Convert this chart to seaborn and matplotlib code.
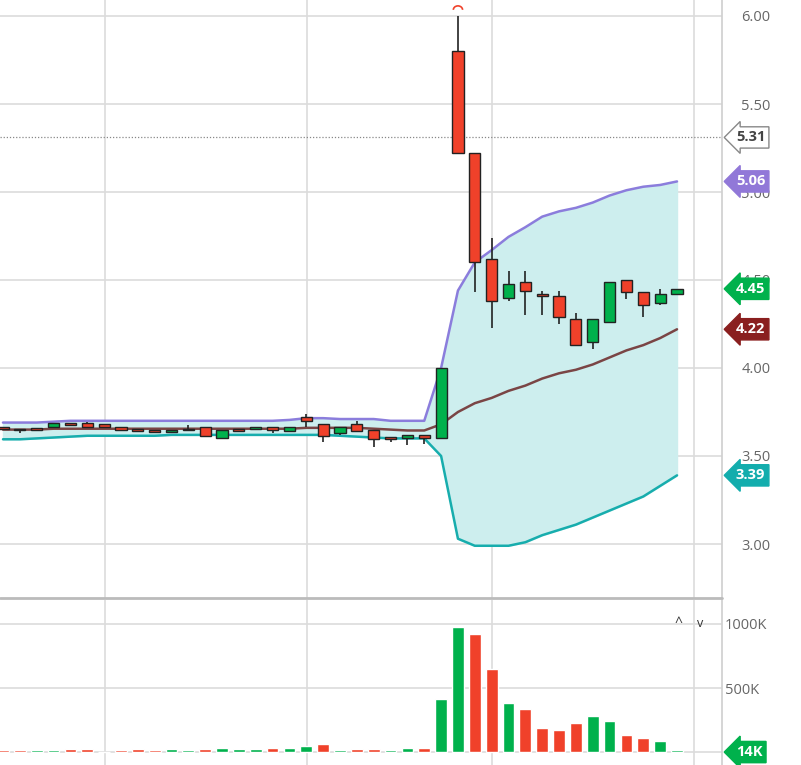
import numpy as np
import pandas as pd
import matplotlib
matplotlib.use("Agg")
import matplotlib.pyplot as plt
import matplotlib.patches as mpatches
import seaborn as sns

sns.set_theme(style="white")
plt.rcParams['font.family'] = ['Open Sans', 'DejaVu Sans']

opens = [3.66,3.65,3.655,3.665,3.68,3.685,3.68,3.665,3.645,3.65,3.635,3.645,3.665,3.605,3.645,3.655,3.665,3.64,3.72,3.68,3.63,3.68,3.645,3.60,3.60,3.62,
         3.60,5.80,5.22,4.62,4.40,4.49,4.42,4.41,4.28,4.15,4.26,4.50,4.43,4.37,4.42]
closes = [3.655,3.645,3.65,3.69,3.678,3.665,3.665,3.65,3.643,3.635,3.645,3.655,3.615,3.645,3.643,3.665,3.65,3.665,3.70,3.615,3.665,3.64,3.595,3.598,3.62,3.60,
          4.00,5.22,4.60,4.38,4.48,4.44,4.41,4.29,4.13,4.28,4.49,4.43,4.36,4.42,4.45]
highs = [3.665,3.655,3.66,3.69,3.685,3.695,3.68,3.665,3.648,3.65,3.645,3.675,3.665,3.645,3.648,3.665,3.665,3.665,3.74,3.68,3.665,3.70,3.645,3.60,3.62,3.62,
         4.00,6.00,5.22,4.74,4.55,4.55,4.44,4.44,4.31,4.28,4.49,4.50,4.43,4.45,4.45]
lows = [3.655,3.63,3.65,3.665,3.675,3.665,3.665,3.65,3.64,3.635,3.63,3.645,3.615,3.60,3.64,3.655,3.63,3.64,3.665,3.58,3.62,3.64,3.55,3.58,3.56,3.57,
        3.60,5.22,4.43,4.23,4.38,4.30,4.30,4.25,4.13,4.11,4.26,4.39,4.29,4.36,4.42]
upper = [3.69,3.69,3.69,3.695,3.70,3.70,3.70,3.70,3.70,3.70,3.70,3.70,3.70,3.70,3.70,3.70,3.70,3.705,3.715,3.715,3.71,3.71,3.71,3.70,3.70,3.70,
         4.00,4.44,4.60,4.67,4.745,4.80,4.86,4.89,4.91,4.94,4.98,5.01,5.03,5.04,5.06]
middle = [3.65,3.65,3.65,3.655,3.655,3.655,3.655,3.655,3.655,3.655,3.655,3.655,3.655,3.655,3.655,3.655,3.655,3.655,3.66,3.66,3.66,3.66,3.655,3.65,3.645,3.645,
          3.68,3.75,3.80,3.83,3.87,3.90,3.94,3.97,3.99,4.02,4.06,4.10,4.13,4.17,4.22]
lower = [3.595,3.595,3.60,3.605,3.61,3.615,3.615,3.615,3.615,3.615,3.62,3.62,3.62,3.62,3.62,3.62,3.62,3.62,3.62,3.62,3.615,3.61,3.605,3.60,3.60,3.60,
         3.50,3.03,2.99,2.99,2.99,3.01,3.05,3.08,3.11,3.15,3.19,3.23,3.27,3.33,3.39]
volumes = [14,14,18,16,20,20,0,18,22,14,20,18,20,30,24,26,28,30,50,60,16,26,26,16,30,30,
           418,980,920,645,384,334,185,170,230,280,243,133,112,86,14]
vol_up = [0,0,1,1,0,0,0,0,0,0,1,1,0,1,1,1,0,1,1,0,1,0,0,1,1,0,
          1,1,0,0,1,0,0,0,0,1,1,0,0,1,1]
price_ticks = [3.00,3.50,4.00,4.50,5.00,5.50,6.00]

GREEN = "#00b14c"; RED = "#f0412a"
n = len(opens)
x = np.arange(n)
df = pd.DataFrame(dict(x=x, o=opens, c=closes, h=highs, l=lows, up=upper, mid=middle, lo=lower, v=volumes, vu=vol_up))

fig = plt.figure(figsize=(8.01, 7.65), dpi=100)
W, H = 801, 765
ax = fig.add_axes([0, 1 - 598/H, 722/W, 598/H])
axv = fig.add_axes([0, 0, 722/W, 165/H])

xl = (-3/16.85, (722-3)/16.85)
for a in (ax, axv):
    a.set_xlim(*xl)
    for s in ["top", "left", "bottom"]:
        a.spines[s].set_visible(False)
    a.spines["right"].set_color("#d0d0d0")
    a.set_xticks([])
    for gx in [105, 307, 492, 694]:
        a.axvline(gx/16.85 - 3/16.85, color="#dcdcdc", lw=1.2, zorder=0)

ax.set_ylim(6 - 582/176, 6 + 16/176)
for t in price_ticks:
    ax.axhline(t, color="#dcdcdc", lw=1.2, zorder=0)
ax.yaxis.tick_right()
ax.set_yticks(price_ticks)
ax.set_yticklabels([f"{t:.2f}" for t in price_ticks], color="#666666", fontsize=10.5)
ax.tick_params(axis="y", length=0, pad=14)

ax.fill_between(df.x, df.lo, df.up, color="#cdeeee", zorder=1)
sns.lineplot(data=df, x="x", y="up", ax=ax, color="#8b7ddc", lw=1.8, zorder=2)
sns.lineplot(data=df, x="x", y="lo", ax=ax, color="#17adad", lw=1.8, zorder=2)
sns.lineplot(data=df, x="x", y="mid", ax=ax, color="#7a4545", lw=1.8, zorder=2)
ax.set_xlabel(""); ax.set_ylabel("")

colors = [GREEN if c >= o else RED for o, c in zip(opens, closes)]
ax.vlines(df.x, df.l, df.h, color="#222222", lw=1.2, zorder=3)
bottoms = np.minimum(df.o, df.c)
heights = np.maximum(np.abs(df.c - df.o), 0.008)
ax.bar(df.x, heights, bottom=bottoms, width=0.66, color=colors, edgecolor="#222222", lw=1.0, zorder=4)

ax.axhline(5.31, color="#888888", lw=0.9, ls=(0, (1, 1.5)), zorder=2)
imax = int(np.argmax(highs))
arc = mpatches.Arc((imax, highs[imax] + 0.035), 0.55, 0.045, theta1=0, theta2=180,
                   color=RED, lw=1.2, zorder=5)
ax.add_patch(arc)

def tag(a, y, txt, fc, tc="white", ec=None):
    a.annotate(txt, (1.0, y), xycoords=("axes fraction", "data"), xytext=(10, 0),
               textcoords="offset points", ha="left", va="center", color=tc,
               fontsize=10.5, fontweight="bold", annotation_clip=False, zorder=10,
               bbox=dict(boxstyle="larrow,pad=0.25", fc=fc, ec=ec or fc, lw=1))

tag(ax, 5.31, "5.31", "white", tc="#444444", ec="#888888")
tag(ax, upper[-1], f"{upper[-1]:.2f}", "#9178d8")
tag(ax, closes[-1], f"{closes[-1]:.2f}", GREEN)
tag(ax, middle[-1], f"{middle[-1]:.2f}", "#8a1f1f")
tag(ax, lower[-1], f"{lower[-1]:.2f}", "#13adad")

axv.set_ylim(-101, 1187)
for t in [500, 1000]:
    axv.axhline(t, color="#dcdcdc", lw=1.2, zorder=0)
axv.axhline(0, color="#dcdcdc", lw=1.2, zorder=0)
axv.yaxis.tick_right()
axv.set_yticks([500, 1000])
axv.set_yticklabels(["500K", "1000K"], color="#666666", fontsize=10.5)
axv.tick_params(axis="y", length=0, pad=2)
vcol = [GREEN if u else RED for u in vol_up]
axv.bar(df.x, df.v, width=0.7, color=vcol, zorder=2)
tag(axv, 0, f"{volumes[-1]}K", GREEN)
axv.text(0.94, 1000, "^", transform=axv.get_yaxis_transform(), ha="center", va="center", fontsize=10, color="#333")
axv.text(0.97, 1000, "v", transform=axv.get_yaxis_transform(), ha="center", va="center", fontsize=9, color="#333")
fig.add_artist(plt.Line2D([0, 722/W], [1-598/H, 1-598/H], color="#bbbbbb", lw=2))

fig.savefig("out.png", dpi=100)
